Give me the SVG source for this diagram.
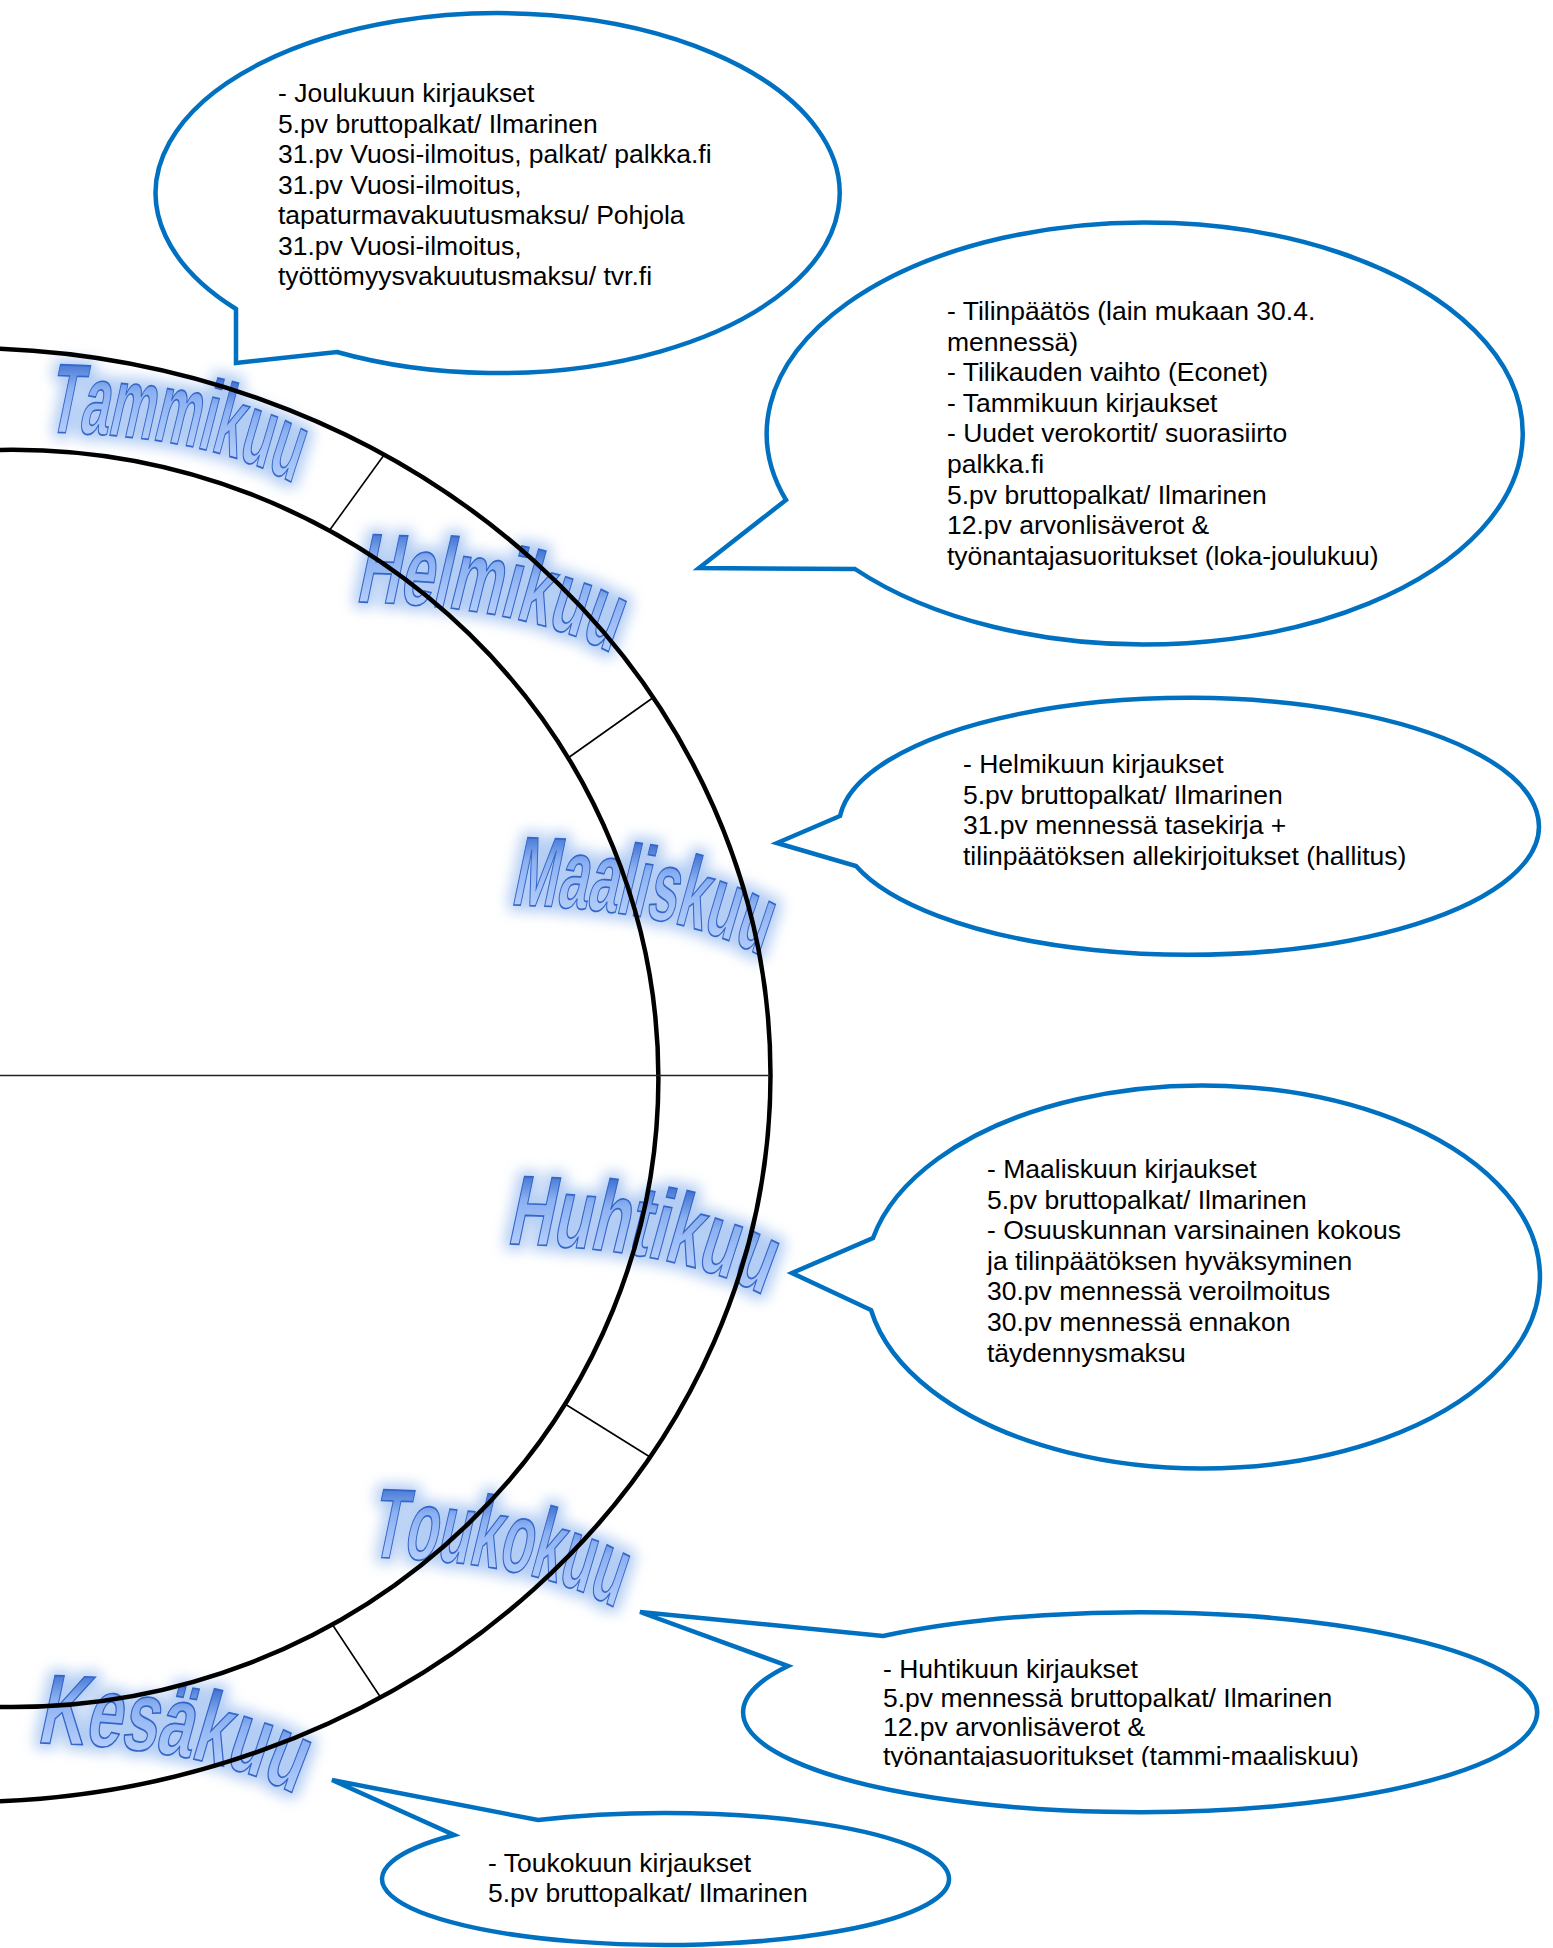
<svg xmlns="http://www.w3.org/2000/svg" width="1553" height="1948" viewBox="0 0 1553 1948">
<defs>
<style>
.bubble{fill:#fff;stroke:#0070C0;stroke-width:4.5;stroke-linejoin:miter}
.txt{font-family:"Liberation Sans",Arial,sans-serif;font-size:26.5px;fill:#000}
.ring{fill:none;stroke:#000;stroke-width:4.5}
.tick{stroke:#000;stroke-width:1.6}
.wa{font-family:"Liberation Sans",Arial,sans-serif;font-weight:bold;font-size:98px;fill:url(#waGrad);stroke:#3466c8;stroke-width:1.7}
</style>
<linearGradient id="waGrad" x1="0" y1="0" x2="0" y2="1">
<stop offset="0" stop-color="#1b46a3"/>
<stop offset="0.14" stop-color="#3a6dd0"/>
<stop offset="0.4" stop-color="#8cb1f1"/>
<stop offset="1" stop-color="#c6daff"/>
</linearGradient>
<filter id="glow" x="-15%" y="-30%" width="130%" height="160%" color-interpolation-filters="sRGB">
<feMorphology in="SourceAlpha" operator="dilate" radius="5" result="d"/>
<feGaussianBlur in="d" stdDeviation="7" result="b"/>
<feFlood flood-color="#a6c4f2" flood-opacity="0.85" result="c"/>
<feComposite in="c" in2="b" operator="in" result="g"/>
<feMerge><feMergeNode in="g"/><feMergeNode in="SourceGraphic"/></feMerge>
</filter>
<path id="pTam" d="M0,0 Q317.8,4 486,52 l84,24"/>
<path id="pHel" d="M0,0 Q285.7,4 437,52 l75.6,24"/>
<path id="pMaa" d="M0,0 Q306.9,4 469.3,52 l81.2,24"/>
<path id="pHuh" d="M0,0 Q274.6,4 420,52 l72.7,24"/>
<path id="pTou" d="M0,0 Q303.6,4 464.3,52 l80.4,24"/>
<path id="pKes" d="M0,0 Q264,4 403.7,52 l69.9,24"/>
<clipPath id="clip5"><rect x="0" y="0" width="1553" height="1767"/></clipPath>
</defs>
<rect width="1553" height="1948" fill="#fff"/>

<g id="labels">
<g id="label-tammikuu" filter="url(#glow)"><g transform="translate(46,432) skewX(-11) scale(0.531,1)">
<text class="wa"><textPath href="#pTam" startOffset="0">T</textPath></text>
<text class="wa"><textPath href="#pTam" startOffset="59.9">a</textPath></text>
<text class="wa"><textPath href="#pTam" startOffset="114.4">m</textPath></text>
<text class="wa"><textPath href="#pTam" startOffset="201.5">m</textPath></text>
<text class="wa"><textPath href="#pTam" startOffset="288.6">i</textPath></text>
<text class="wa"><textPath href="#pTam" startOffset="315.8">k</textPath></text>
<text class="wa"><textPath href="#pTam" startOffset="370.3">u</textPath></text>
<text class="wa"><textPath href="#pTam" startOffset="430.2">u</textPath></text>
</g></g>
<g id="label-helmikuu" filter="url(#glow)"><g transform="translate(355,602) skewX(-11) scale(0.611,1)">
<text class="wa"><textPath href="#pHel" startOffset="0">H</textPath></text>
<text class="wa"><textPath href="#pHel" startOffset="70.8">e</textPath></text>
<text class="wa"><textPath href="#pHel" startOffset="125.3">l</textPath></text>
<text class="wa"><textPath href="#pHel" startOffset="152.5">m</textPath></text>
<text class="wa"><textPath href="#pHel" startOffset="239.6">i</textPath></text>
<text class="wa"><textPath href="#pHel" startOffset="266.8">k</textPath></text>
<text class="wa"><textPath href="#pHel" startOffset="321.3">u</textPath></text>
<text class="wa"><textPath href="#pHel" startOffset="381.2">u</textPath></text>
</g></g>
<g id="label-maaliskuu" filter="url(#glow)"><g transform="translate(510,905) skewX(-11) scale(0.558,1)">
<text class="wa"><textPath href="#pMaa" startOffset="0">M</textPath></text>
<text class="wa"><textPath href="#pMaa" startOffset="81.6">a</textPath></text>
<text class="wa"><textPath href="#pMaa" startOffset="136.1">a</textPath></text>
<text class="wa"><textPath href="#pMaa" startOffset="190.6">l</textPath></text>
<text class="wa"><textPath href="#pMaa" startOffset="217.8">i</textPath></text>
<text class="wa"><textPath href="#pMaa" startOffset="245">s</textPath></text>
<text class="wa"><textPath href="#pMaa" startOffset="299.5">k</textPath></text>
<text class="wa"><textPath href="#pMaa" startOffset="354">u</textPath></text>
<text class="wa"><textPath href="#pMaa" startOffset="413.9">u</textPath></text>
</g></g>
<g id="label-huhtikuu" filter="url(#glow)"><g transform="translate(506,1244) skewX(-11) scale(0.638,1)">
<text class="wa"><textPath href="#pHuh" startOffset="0">H</textPath></text>
<text class="wa"><textPath href="#pHuh" startOffset="70.8">u</textPath></text>
<text class="wa"><textPath href="#pHuh" startOffset="130.7">h</textPath></text>
<text class="wa"><textPath href="#pHuh" startOffset="190.6">t</textPath></text>
<text class="wa"><textPath href="#pHuh" startOffset="223.2">i</textPath></text>
<text class="wa"><textPath href="#pHuh" startOffset="250.4">k</textPath></text>
<text class="wa"><textPath href="#pHuh" startOffset="304.9">u</textPath></text>
<text class="wa"><textPath href="#pHuh" startOffset="364.8">u</textPath></text>
</g></g>
<g id="label-toukokuu" filter="url(#glow)"><g transform="translate(369,1557) skewX(-11) scale(0.554,1)">
<text class="wa"><textPath href="#pTou" startOffset="0">T</textPath></text>
<text class="wa"><textPath href="#pTou" startOffset="59.9">o</textPath></text>
<text class="wa"><textPath href="#pTou" startOffset="119.8">u</textPath></text>
<text class="wa"><textPath href="#pTou" startOffset="179.7">k</textPath></text>
<text class="wa"><textPath href="#pTou" startOffset="234.2">o</textPath></text>
<text class="wa"><textPath href="#pTou" startOffset="294.1">k</textPath></text>
<text class="wa"><textPath href="#pTou" startOffset="348.6">u</textPath></text>
<text class="wa"><textPath href="#pTou" startOffset="408.5">u</textPath></text>
</g></g>
<g id="label-kesakuu" filter="url(#glow)"><g transform="translate(36,1743) skewX(-11) scale(0.667,1)">
<text class="wa"><textPath href="#pKes" startOffset="0">K</textPath></text>
<text class="wa"><textPath href="#pKes" startOffset="70.8">e</textPath></text>
<text class="wa"><textPath href="#pKes" startOffset="125.3">s</textPath></text>
<text class="wa"><textPath href="#pKes" startOffset="179.8">ä</textPath></text>
<text class="wa"><textPath href="#pKes" startOffset="234.3">k</textPath></text>
<text class="wa"><textPath href="#pKes" startOffset="288.8">u</textPath></text>
<text class="wa"><textPath href="#pKes" startOffset="348.7">u</textPath></text>
</g></g>
</g>

<g id="wheel">
<ellipse class="ring" cx="-37" cy="1075" rx="807.5" ry="727"/>
<ellipse class="ring" cx="12.4" cy="1078.4" rx="646" ry="628.6"/>
<line x1="0" y1="1075.5" x2="770" y2="1075.5" stroke="#222" stroke-width="1.5"/>
<line class="tick" x1="329" y1="531" x2="384" y2="455"/>
<line class="tick" x1="568" y1="758" x2="654" y2="697"/>
<line class="tick" x1="565" y1="1404" x2="650" y2="1457"/>
<line class="tick" x1="332" y1="1624" x2="381" y2="1698"/>
</g>

<g id="callout-joulukuu">
<path class="bubble" d="M337,352 A342,180 0 1 0 236,309 L236,363 Z"/>
<text class="txt"><tspan x="278" y="102">- Joulukuun kirjaukset</tspan><tspan x="278" dy="30.5">5.pv bruttopalkat/ Ilmarinen</tspan><tspan x="278" dy="30.5">31.pv Vuosi-ilmoitus, palkat/ palkka.fi</tspan><tspan x="278" dy="30.5">31.pv Vuosi-ilmoitus,</tspan><tspan x="278" dy="30.5">tapaturmavakuutusmaksu/ Pohjola</tspan><tspan x="278" dy="30.5">31.pv Vuosi-ilmoitus,</tspan><tspan x="278" dy="30.5">työttömyysvakuutusmaksu/ tvr.fi</tspan></text>
</g>

<g id="callout-tammikuu">
<path class="bubble" d="M855,569 A378,211 0 1 0 786,500 L699,568 Z"/>
<text class="txt"><tspan x="947" y="320">- Tilinpäätös (lain mukaan 30.4.</tspan><tspan x="947" dy="30.6">mennessä)</tspan><tspan x="947" dy="30.6">- Tilikauden vaihto (Econet)</tspan><tspan x="947" dy="30.6">- Tammikuun kirjaukset</tspan><tspan x="947" dy="30.6">- Uudet verokortit/ suorasiirto</tspan><tspan x="947" dy="30.6">palkka.fi</tspan><tspan x="947" dy="30.6">5.pv bruttopalkat/ Ilmarinen</tspan><tspan x="947" dy="30.6">12.pv arvonlisäverot &amp;</tspan><tspan x="947" dy="30.6">työnantajasuoritukset (loka-joulukuu)</tspan></text>
</g>

<g id="callout-helmikuu">
<path class="bubble" d="M856,866 A350,128.5 0 1 0 840,816 L777,843 Z"/>
<text class="txt"><tspan x="963" y="773">- Helmikuun kirjaukset</tspan><tspan x="963" dy="30.6">5.pv bruttopalkat/ Ilmarinen</tspan><tspan x="963" dy="30.6">31.pv mennessä tasekirja +</tspan><tspan x="963" dy="30.6">tilinpäätöksen allekirjoitukset (hallitus)</tspan></text>
</g>

<g id="callout-maaliskuu">
<path class="bubble" d="M871,1310 A337,191.5 0 1 0 873,1238 L792,1273 Z"/>
<text class="txt"><tspan x="987" y="1178">- Maaliskuun kirjaukset</tspan><tspan x="987" dy="30.6">5.pv bruttopalkat/ Ilmarinen</tspan><tspan x="987" dy="30.6">- Osuuskunnan varsinainen kokous</tspan><tspan x="987" dy="30.6">ja tilinpäätöksen hyväksyminen</tspan><tspan x="987" dy="30.6">30.pv mennessä veroilmoitus</tspan><tspan x="987" dy="30.6">30.pv mennessä ennakon</tspan><tspan x="987" dy="30.6">täydennysmaksu</tspan></text>
</g>

<g id="callout-huhtikuu">
<path class="bubble" d="M883,1636 A397,100 0 1 1 788,1666 L640,1612 Z"/>
<text class="txt" clip-path="url(#clip5)"><tspan x="883" y="1678">- Huhtikuun kirjaukset</tspan><tspan x="883" dy="29">5.pv mennessä bruttopalkat/ Ilmarinen</tspan><tspan x="883" dy="29">12.pv arvonlisäverot &amp;</tspan><tspan x="883" dy="29">työnantajasuoritukset (tammi-maaliskuu)</tspan></text>
</g>

<g id="callout-toukokuu">
<path class="bubble" d="M538,1820 A283.5,66 0 1 1 454,1835 L332,1780 Z"/>
<text class="txt"><tspan x="488" y="1872">- Toukokuun kirjaukset</tspan><tspan x="488" dy="30">5.pv bruttopalkat/ Ilmarinen</tspan></text>
</g>
</svg>
